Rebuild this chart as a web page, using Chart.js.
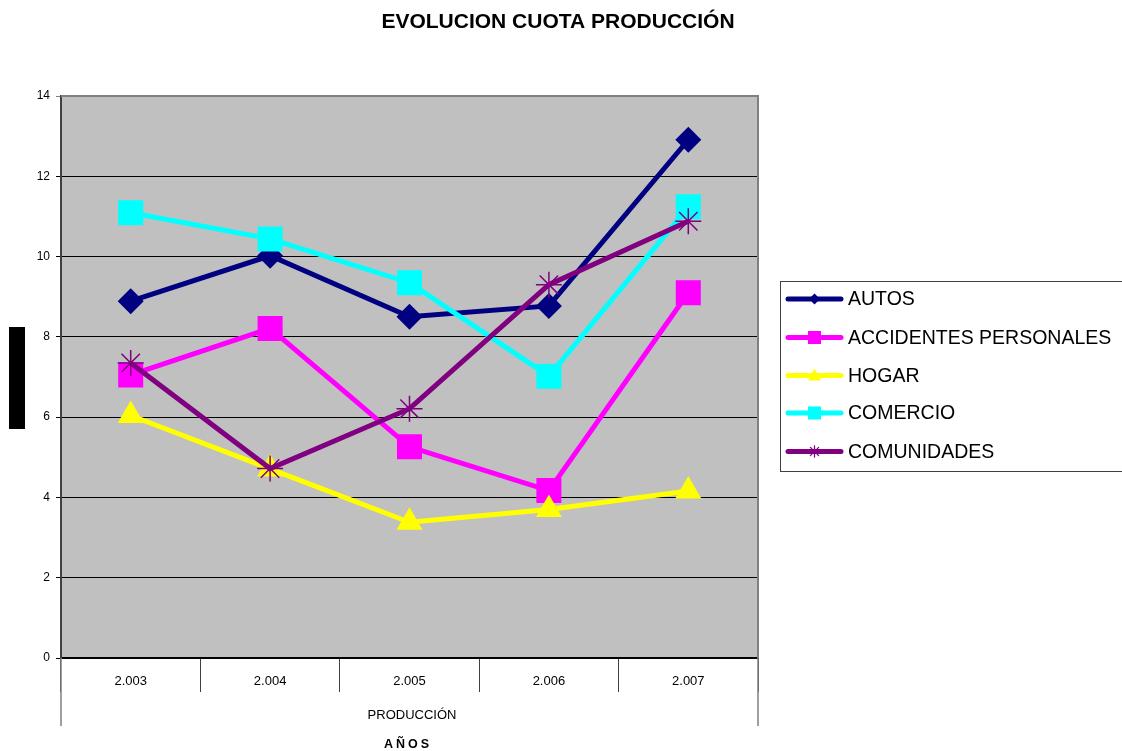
<!DOCTYPE html>
<html>
<head>
<meta charset="utf-8">
<script src="https://cdn.jsdelivr.net/npm/chart.js@4/dist/chart.umd.min.js"></script>
<style>
html,body{margin:0;padding:0;background:#fff;}
canvas{display:block;}
</style>
</head>
<body>
<canvas id="c" width="1122" height="751"></canvas>
<script>
// ---- data ----
const categories = ['2.003', '2.004', '2.005', '2.006', '2.007'];
const seriesNames = ['AUTOS', 'ACCIDENTES PERSONALES', 'HOGAR', 'COMERCIO', 'COMUNIDADES'];
const autos       = [8.89, 10.02, 8.50, 8.77, 12.91];
const accidentes  = [7.05, 8.21, 5.26, 4.17, 9.10];
const hogar       = [6.04, 4.71, 3.38, 3.70, 4.16];
const comercio    = [11.09, 10.44, 9.35, 7.02, 11.24];
const comunidades = [7.35, 4.72, 6.21, 9.30, 10.88];
const yTicks = [0, 2, 4, 6, 8, 10, 12, 14];
const chartTitle = 'EVOLUCION CUOTA PRODUCCIÓN';
const groupLabel = 'PRODUCCIÓN';
const xTitle = 'AÑOS';

const FONT = "'Liberation Sans', Arial, sans-serif";
const colors = ['#000080', '#FF00FF', '#FFFF00', '#00FFFF', '#800080'];
const styles = ['rectRot', 'rect', 'triangle', 'rect', 'star'];
const radii = [13, 17.7, 15, 17.7, 13];
const values = [autos, accidentes, hogar, comercio, comunidades];

const datasets = seriesNames.map((name, i) => ({
  label: name,
  data: values[i],
  borderColor: colors[i],
  backgroundColor: colors[i],
  borderWidth: 5,
  tension: 0,
  pointStyle: styles[i],
  pointRadius: radii[i],
  pointHoverRadius: radii[i],
  pointBackgroundColor: colors[i],
  pointBorderColor: colors[i],
  pointBorderWidth: styles[i] === 'star' ? 1.5 : 0,
  order: seriesNames.length - i
}));

function legendMarker(ctx, style, x, y, color) {
  ctx.save();
  ctx.fillStyle = color; ctx.strokeStyle = color;
  ctx.beginPath();
  if (style === 'rectRot') {
    const r = 5.5;
    ctx.moveTo(x, y - r); ctx.lineTo(x + r, y); ctx.lineTo(x, y + r); ctx.lineTo(x - r, y); ctx.closePath(); ctx.fill();
  } else if (style === 'rect') {
    const s = 6.5;
    ctx.rect(x - s, y - s, 2 * s, 2 * s); ctx.fill();
  } else if (style === 'triangle') {
    ctx.moveTo(x, y - 7); ctx.lineTo(x + 6.5, y + 5); ctx.lineTo(x - 6.5, y + 5); ctx.closePath(); ctx.fill();
  } else if (style === 'star') {
    const r = 5.5; ctx.lineWidth = 1.3;
    ctx.moveTo(x, y - r); ctx.lineTo(x, y + r);
    ctx.moveTo(x - r, y); ctx.lineTo(x + r, y);
    const d = r * 0.75;
    ctx.moveTo(x - d, y - d); ctx.lineTo(x + d, y + d);
    ctx.moveTo(x - d, y + d); ctx.lineTo(x + d, y - d);
    ctx.stroke();
  }
  ctx.restore();
}

const decor = {
  id: 'decor',
  beforeDraw(chart) {
    const {ctx, chartArea: a} = chart;
    ctx.save();
    ctx.fillStyle = '#C0C0C0';
    ctx.fillRect(a.left, a.top, a.right - a.left, a.bottom - a.top);
    ctx.restore();
  },
  afterDraw(chart) {
    const {ctx, chartArea: a} = chart;
    ctx.save();
    // plot border top/right
    ctx.strokeStyle = '#808080'; ctx.lineWidth = 2;
    ctx.beginPath();
    ctx.moveTo(a.left, a.top); ctx.lineTo(a.right, a.top); ctx.lineTo(a.right, a.bottom);
    ctx.stroke();
    // outer group dividers
    ctx.lineWidth = 1.5; ctx.strokeStyle = '#808080';
    ctx.beginPath();
    ctx.moveTo(a.left, a.bottom); ctx.lineTo(a.left, 726);
    ctx.moveTo(a.right, a.bottom); ctx.lineTo(a.right, 726);
    ctx.stroke();
    // title
    ctx.fillStyle = '#000';
    ctx.textAlign = 'center'; ctx.textBaseline = 'middle';
    ctx.font = 'bold 21px ' + FONT;
    ctx.fillText(chartTitle, 558, 22);
    // group label and axis title
    ctx.font = '13px ' + FONT;
    ctx.fillText(groupLabel, 412, 715);
    ctx.font = 'bold 12.5px ' + FONT;
    try { ctx.letterSpacing = '3px'; } catch (e) {}
    ctx.fillText(xTitle, 408, 745);
    try { ctx.letterSpacing = '0px'; } catch (e) {}
    // black box (y-axis title placeholder)
    ctx.fillStyle = '#000';
    ctx.fillRect(9, 327, 16, 102);
    // legend
    ctx.strokeStyle = '#404040'; ctx.lineWidth = 1;
    ctx.strokeRect(780.5, 281.5, 360, 190);
    const ys = [299, 337.5, 375.5, 413, 451.5];
    ctx.font = '19.5px ' + FONT;
    ctx.textAlign = 'left'; ctx.textBaseline = 'middle';
    seriesNames.forEach((name, i) => {
      const y = ys[i];
      ctx.strokeStyle = colors[i]; ctx.lineWidth = 5; ctx.lineCap = 'round';
      ctx.beginPath(); ctx.moveTo(788, y); ctx.lineTo(841, y); ctx.stroke();
      legendMarker(ctx, styles[i], 814.5, y, colors[i]);
      ctx.fillStyle = '#000';
      ctx.fillText(name, 848, y + 1);
    });
    ctx.restore();
  }
};

new Chart(document.getElementById('c'), {
  type: 'line',
  data: { labels: categories, datasets },
  plugins: [decor],
  options: {
    responsive: false,
    animation: false,
    devicePixelRatio: 1,
    layout: { padding: { left: 0, top: 96, right: 364, bottom: 0 } },
    plugins: { legend: { display: false }, title: { display: false }, tooltip: { enabled: false } },
    scales: {
      x: {
        type: 'category',
        offset: true,
        afterFit(s) { s.height = 93; },
        grid: { offset: true, drawOnChartArea: false, drawTicks: true, tickLength: 34, color: '#404040', lineWidth: 1 },
        border: { display: true, color: '#000', width: 2 },
        ticks: { color: '#000', font: { family: FONT, size: 13 }, padding: -18, maxRotation: 0, autoSkip: false }
      },
      y: {
        min: yTicks[0],
        max: yTicks[yTicks.length - 1],
        afterFit(s) { s.width = 61; },
        afterBuildTicks(s) { s.ticks = yTicks.map(v => ({ value: v })); },
        grid: {
          color: (c) => (c.tick && c.tick.value === 14 ? '#808080' : '#000'),
          lineWidth: 1, tickLength: 5, drawTicks: true
        },
        border: { display: true, color: '#404040', width: 2 },
        ticks: { color: '#000', font: { family: FONT, size: 12 }, padding: 6 }
      }
    }
  }
});
</script>
</body>
</html>
